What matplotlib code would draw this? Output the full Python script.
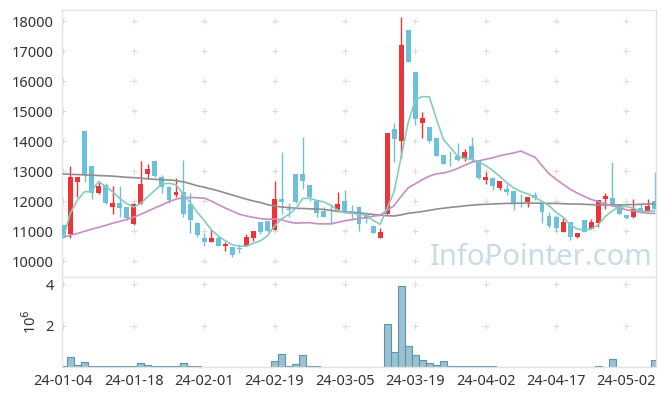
import matplotlib
matplotlib.use('Agg')
import matplotlib.pyplot as plt
import numpy as np

plt.rcParams['font.family'] = ['Noto Sans', 'DejaVu Sans']

# daily OHLC (trading days 2024-01-04 .. 2024-05-09)
open_ = [11200, 10890, 12650, 14330, 13170, 12280, 12520, 11800, 11940, 11790,
         11220, 11890, 12890, 13330, 12790, 12460, 12210, 12310, 11900, 11280,
         10780, 10640, 10780, 10510, 10460, 10430, 10500, 10760, 11290, 11340,
         11030, 12070, 11720, 12900, 12900, 12530, 12010, 11660, 11400, 11700,
         12000, 11670, 11810, 11530, 11180, 10780, 11570, 14400, 14010, 17700,
         16310, 14610, 14480, 14110, 13540, 13400, 13500, 13390, 13830, 13370,
         12700, 12780, 12440, 12400, 12320, 12210, 11980, 12200, 11920, 11500,
         11460, 10980, 11290, 10810, 11370, 11080, 11280, 12060, 12090, 11870,
         11520, 11460, 11780, 11680, 12000]
high = [11200, 13170, 12800, 14330, 13170, 12670, 12590, 12500, 12500, 11800,
        11930, 13330, 13220, 13340, 12870, 12500, 12780, 13370, 12260, 11300,
        10920, 11060, 10830, 10640, 10470, 10570, 10900, 11000, 11300, 11350,
        12670, 13640, 11920, 12900, 14120, 12530, 12030, 11790, 11900, 12290,
        12370, 11870, 11830, 11560, 11200, 11110, 14260, 14590, 18120, 17700,
        16310, 14960, 14480, 14110, 13540, 13680, 13920, 13730, 14120, 13370,
        12980, 12800, 12680, 12560, 12330, 12230, 12130, 12310, 11930, 11640,
        11530, 11420, 11300, 10950, 11370, 11390, 12040, 12280, 13290, 11900,
        11540, 12060, 11890, 12060, 12980]
low = [10780, 10760, 12140, 12620, 12060, 12220, 11900, 11570, 11480, 11370,
       11210, 11890, 12720, 12800, 12280, 11920, 12120, 11480, 10920, 10790,
       10510, 10640, 10490, 10330, 10140, 10280, 10500, 10680, 10890, 10980,
       11030, 11570, 11480, 11920, 12400, 12010, 11460, 11470, 11230, 11700,
       11640, 11370, 11000, 11260, 10940, 10780, 11570, 13310, 13420, 16640,
       14530, 14110, 13920, 13510, 13220, 13170, 13340, 13340, 13350, 12720,
       12570, 12370, 12370, 12200, 11700, 11810, 11790, 12050, 11280, 11090,
       11010, 10970, 10700, 10760, 10960, 11070, 11140, 11730, 11890, 11570,
       11390, 11450, 11670, 11670, 11720]
close = [10810, 12790, 12800, 12890, 12280, 12500, 11940, 11940, 11780, 11420,
         11900, 12570, 13060, 12840, 12460, 12030, 12310, 11570, 11370, 10870,
         10640, 10780, 10510, 10570, 10200, 10400, 10790, 11000, 10980, 11010,
         12070, 11980, 11700, 11980, 12680, 12120, 11610, 11480, 11390, 11890,
         11640, 11590, 11220, 11390, 10940, 10970, 14260, 14070, 17200, 16640,
         14720, 14780, 14010, 13510, 13220, 13390, 13370, 13620, 13370, 12780,
         12790, 12510, 12670, 12310, 11890, 12200, 12120, 12090, 11640, 11170,
         11100, 11310, 10810, 10940, 10980, 11310, 12030, 12170, 11890, 11580,
         11420, 11730, 11680, 11830, 11720]

# moving averages as drawn on the chart (5, 20, 60 days)
ma5 = [10780, 11600, 12030, 12310, 12314, 12652, 12482, 12310, 12088, 11916,
       11796, 11922, 12146, 12358, 12566, 12592, 12540, 12242, 11948, 11630,
       11352, 11046, 10834, 10674, 10540, 10492, 10494, 10592, 10674, 10836,
       11170, 11408, 11548, 11748, 12082, 12092, 12018, 11974, 11856, 11698,
       11602, 11598, 11546, 11546, 11356, 11222, 11756, 12326, 13488, 14628,
       15378, 15482, 15470, 14732, 14048, 13782, 13500, 13422, 13394, 13306,
       13186, 13014, 12824, 12612, 12434, 12316, 12238, 12122, 11988, 11844,
       11624, 11462, 11206, 11066, 11028, 11070, 11214, 11486, 11676, 11796,
       11818, 11758, 11660, 11648, 11676]
ma20 = [10790, 10860, 10920, 10990, 11060, 11120, 11190, 11260, 11320, 11390,
        11460, 11560, 11660, 11770, 11870, 11980, 12060, 12110, 12120, 12106,
        12098, 11998, 11883, 11767, 11663, 11558, 11500, 11454, 11414, 11393,
        11402, 11372, 11304, 11261, 11272, 11277, 11242, 11237, 11238, 11289,
        11339, 11380, 11415, 11456, 11493, 11522, 11695, 11849, 12160, 12441,
        12574, 12714, 12829, 12906, 12933, 12996, 13084, 13191, 13290, 13335,
        13392, 13438, 13511, 13557, 13604, 13666, 13559, 13460, 13182, 12908,
        12727, 12554, 12394, 12265, 12153, 12049, 11982, 11910, 11836, 11776,
        11707, 11668, 11619, 11595, 11586]
ma60 = [12900, 12890, 12880, 12870, 12860, 12850, 12840, 12830, 12810, 12790,
        12780, 12760, 12740, 12720, 12710, 12700, 12680, 12640, 12580, 12510,
        12460, 12400, 12340, 12270, 12200, 12130, 12060, 12000, 11950, 11880,
        11830, 11800, 11780, 11760, 11750, 11740, 11730, 11720, 11690, 11650,
        11630, 11620, 11610, 11580, 11550, 11530, 11510, 11500, 11540, 11590,
        11620, 11650, 11690, 11730, 11760, 11790, 11810, 11840, 11860, 11880,
        11890, 11900, 11910, 11920, 11920, 11930, 11930, 11930, 11930, 11920,
        11920, 11910, 11900, 11900, 11890, 11880, 11870, 11870, 11870, 11870,
        11880, 11880, 11890, 11900, 11900]

# volume in millions of shares
volume = [0.03, 0.50, 0.10, 0.26, 0.07, 0.03, 0.03, 0.03, 0.03, 0.03,
          0.03, 0.21, 0.11, 0.03, 0.03, 0.03, 0.03, 0.21, 0.07, 0.03,
          0.00, 0.00, 0.00, 0.00, 0.02, 0.00, 0.02, 0.02, 0.02, 0.02,
          0.31, 0.65, 0.07, 0.16, 0.59, 0.07, 0.03, 0.00, 0.00, 0.02,
          0.02, 0.00, 0.02, 0.00, 0.02, 0.00, 2.06, 0.70, 3.90, 0.99,
          0.60, 0.36, 0.21, 0.11, 0.31, 0.07, 0.07, 0.07, 0.07, 0.07,
          0.03, 0.03, 0.00, 0.02, 0.02, 0.00, 0.00, 0.02, 0.02, 0.00,
          0.00, 0.00, 0.02, 0.00, 0.00, 0.00, 0.07, 0.02, 0.39, 0.02,
          0.00, 0.02, 0.00, 0.02, 0.34]

tick_pos = [0, 10, 20, 30, 40, 50, 60, 70, 80]
tick_labels = ['24-01-04', '24-01-18', '24-02-01', '24-02-19', '24-03-05',
               '24-03-19', '24-04-02', '24-04-17', '24-05-02']
price_ticks = [10000, 11000, 12000, 13000, 14000, 15000, 16000, 17000, 18000]
vol_ticks = [2, 4]

UP = '#ee3436'
DOWN = '#6dc0da'
FRAME = '#e3e3e3'
TXT = '#333333'

W, H = 665, 396
fig = plt.figure(figsize=(W / 100, H / 100), dpi=100)
L, R = 62 / W, 656 / W
ax = fig.add_axes([L, 1 - 277 / H, R - L, (277 - 10) / H])
axv = fig.add_axes([L, 1 - 367 / H, R - L, (367 - 277) / H], sharex=ax)

x = np.arange(len(close))
o = np.array(open_)
c = np.array(close)
up = c >= o
colors = np.where(up, UP, DOWN)

# grid crosses
gx, gy = np.meshgrid(tick_pos, price_ticks)
ax.scatter(gx.ravel(), gy.ravel(), marker='+', s=18, color='#dcdcdc', lw=0.8, zorder=0)

ax.vlines(x, low, high, colors=colors, lw=1.0, zorder=2)
ax.bar(x, np.abs(c - o), bottom=np.minimum(o, c), width=0.7, color=colors, zorder=3)

ax.plot(x, ma60, color='#8e8e8e', lw=1.2, zorder=4)
ax.plot(x, ma20, color='#c98cc3', lw=1.2, zorder=4)
ax.plot(x, ma5, color='#86cbbf', lw=1.2, zorder=4)

ax.text(0.995, 0.02, 'InfoPointer.com', transform=ax.transAxes, ha='right', va='bottom',
        fontsize=21, color='#c9dbe5', zorder=1)

ax.set_xlim(-0.2, 84.2)
ax.set_ylim(9467, 18367)
ax.set_yticks(price_ticks)
ax.tick_params(axis='y', length=0, pad=6, labelsize=10.5, labelcolor=TXT)
ax.tick_params(axis='x', length=0, labelbottom=False)

# volume
vx, vy = np.meshgrid(tick_pos, vol_ticks)
axv.scatter(vx.ravel(), vy.ravel(), marker='+', s=18, color='#dcdcdc', lw=0.8, zorder=0)
axv.bar(x, volume, width=1.0, color='#9ac1d1', edgecolor='#5f93ac', lw=0.8, zorder=2)
axv.set_ylim(0, 4.34)
axv.set_yticks(vol_ticks)
axv.set_xticks(tick_pos)
axv.set_xticklabels(tick_labels)
axv.tick_params(axis='both', length=0, labelsize=10.5, labelcolor=TXT)
axv.tick_params(axis='y', pad=6)
axv.tick_params(axis='x', pad=5)
axv.set_ylabel('10$^6$', fontsize=10.5, color=TXT, labelpad=4)

for a in (ax, axv):
    for s in a.spines.values():
        s.set_color(FRAME)
        s.set_linewidth(1.0)

fig.savefig('out.png', dpi=100)
